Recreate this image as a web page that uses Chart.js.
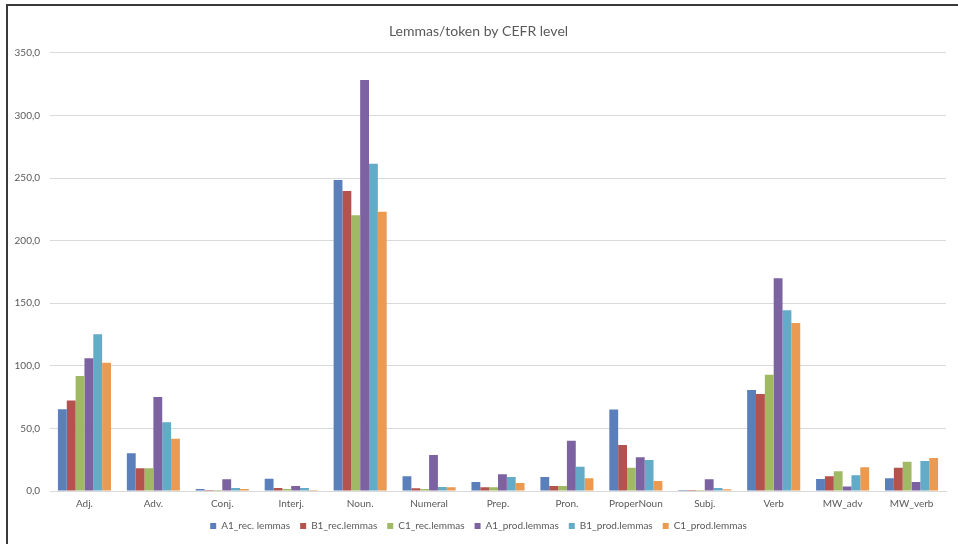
<!DOCTYPE html>
<html>
<head>
<meta charset="utf-8">
<script src="https://cdn.jsdelivr.net/npm/chart.js@4.4.0/dist/chart.umd.min.js"></script>
<style>
  html, body { margin: 0; padding: 0; background: #fff; }
  #wrap { position: relative; width: 958px; height: 544px; }
  #frame {
    position: absolute; left: 6px; top: 4px; right: 0; bottom: 0;
    border-top: 2px solid #3a3a3a; border-left: 2px solid #3a3a3a;
    pointer-events: none;
  }
  canvas { position: absolute; left: 0; top: 0; }
</style>
</head>
<body>
<div id="wrap">
  <canvas id="grafico" width="958" height="544"></canvas>
  <div id="frame"></div>
</div>
<script>
const categories = ["Adj.", "Adv.", "Conj.", "Interj.", "Noun.", "Numeral", "Prep.", "Pron.", "ProperNoun", "Subj.", "Verb", "MW_adv", "MW_verb"];

const seriesNames = ["A1_rec. lemmas", "B1_rec.lemmas", "C1_rec.lemmas", "A1_prod.lemmas", "B1_prod.lemmas", "C1_prod.lemmas"];

const a1Rec  = [65.3, 30.1, 1.6, 9.8, 248.5, 11.7, 7.2, 11.2, 65.0, 0.8, 80.7, 9.6, 10.1];
const b1Rec  = [72.2, 18.1, 0.8, 2.4, 239.7, 2.1, 3.0, 4.0, 36.8, 0.8, 77.5, 11.7, 18.6];
const c1Rec  = [91.9, 18.1, 0.8, 1.6, 220.3, 1.6, 3.0, 4.0, 18.6, 0.8, 92.9, 15.7, 23.4];
const a1Prod = [106.0, 75.1, 9.3, 4.0, 328.2, 28.8, 13.3, 40.2, 26.9, 9.3, 170.0, 3.5, 7.2];
const b1Prod = [125.2, 54.9, 2.4, 2.4, 261.3, 3.2, 11.2, 19.4, 24.8, 2.4, 144.4, 12.5, 24.0];
const c1Prod = [102.5, 41.8, 1.6, 0.8, 223.0, 3.0, 6.4, 10.1, 8.0, 1.3, 134.2, 18.9, 26.4];

const yTicks = [0, 50, 100, 150, 200, 250, 300, 350];

const colors = ["#5a7fbb", "#b4524e", "#a0b964", "#7c62a0", "#63abc6", "#eb9a52"];
const allSeries = [a1Rec, b1Rec, c1Rec, a1Prod, b1Prod, c1Prod];

const fontFamily = "Lato, 'Noto Sans', sans-serif";

new Chart(document.getElementById("grafico"), {
  type: "bar",
  data: {
    labels: categories,
    datasets: allSeries.map((vals, i) => ({
      label: seriesNames[i],
      data: vals,
      backgroundColor: colors[i],
      borderWidth: 0,
      categoryPercentage: 0.77,
      barPercentage: 1.0,
    }))
  },
  options: {
    responsive: false,
    animation: false,
    layout: {
      padding: { top: 0, right: 12, bottom: 3, left: 11 }
    },
    plugins: {
      title: {
        display: true,
        text: "Lemmas/token by CEFR level",
        color: "#595959",
        font: { family: fontFamily, size: 14, weight: "normal" },
        padding: { top: 23, bottom: 13 }
      },
      legend: {
        display: true,
        position: "bottom",
        labels: {
          color: "#595959",
          font: { family: fontFamily, size: 10 },
          boxWidth: 6,
          boxHeight: 6,
          padding: 10
        }
      },
      tooltip: { enabled: false }
    },
    scales: {
      x: {
        grid: { display: false, drawTicks: false },
        border: { color: "#d9d9d9", width: 1 },
        afterFit: (scale) => {
          scale.height = 20;
        },
        ticks: {
          color: "#595959",
          font: { family: fontFamily, size: 10 },
          padding: 7,
          maxRotation: 0,
          autoSkip: false
        }
      },
      y: {
        min: 0,
        max: 350,
        afterBuildTicks: (scale) => {
          scale.ticks = yTicks.map(v => ({ value: v }));
        },
        afterFit: (scale) => {
          scale.width = 39;
        },
        grid: { color: "#d9d9d9", lineWidth: 1, drawTicks: false },
        border: { display: false },
        ticks: {
          color: "#595959",
          font: { family: fontFamily, size: 10 },
          padding: 10,
          callback: (v) => Number(v).toFixed(1).replace(".", ",")
        }
      }
    }
  }
});
</script>
</body>
</html>
